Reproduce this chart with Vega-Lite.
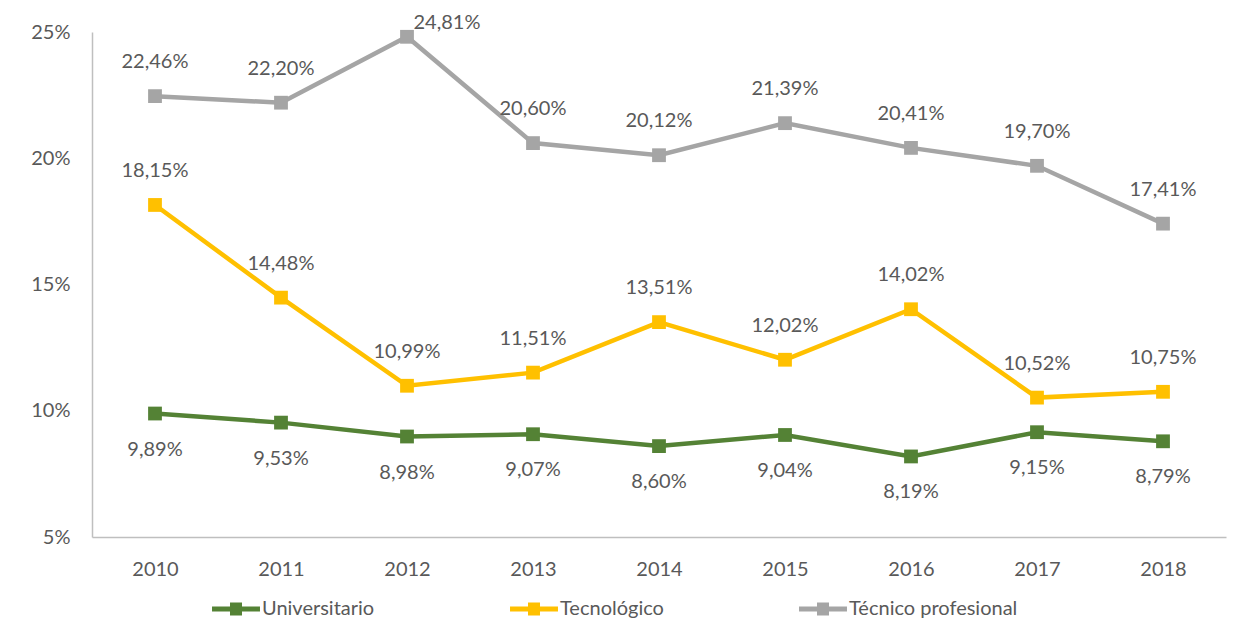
{
  "$schema": "https://vega.github.io/schema/vega-lite/v6.json",
  "autosize": "none",
  "width": 1134,
  "height": 505,
  "padding": {"left": 92, "top": 32, "right": 24, "bottom": 103},
  "background": "white",
  "config": {
    "locale": {"number": {"decimal": ",", "thousands": ".", "grouping": [3], "currency": ["", "€"]}},
    "view": {"stroke": null},
    "font": "Lato",
    "axis": {"labelFont": "Lato", "labelFontSize": 20, "labelColor": "#595959", "domainColor": "#BFBFBF", "domainWidth": 1.5, "ticks": false, "grid": false, "title": null}
  },
  "data": {"values": [
    {"year": "2010", "serie": "Universitario", "v": 0.0989},
    {"year": "2011", "serie": "Universitario", "v": 0.0953},
    {"year": "2012", "serie": "Universitario", "v": 0.0898},
    {"year": "2013", "serie": "Universitario", "v": 0.0907},
    {"year": "2014", "serie": "Universitario", "v": 0.0860},
    {"year": "2015", "serie": "Universitario", "v": 0.0904},
    {"year": "2016", "serie": "Universitario", "v": 0.0819},
    {"year": "2017", "serie": "Universitario", "v": 0.0915},
    {"year": "2018", "serie": "Universitario", "v": 0.0879},
    {"year": "2010", "serie": "Tecnológico", "v": 0.1815},
    {"year": "2011", "serie": "Tecnológico", "v": 0.1448},
    {"year": "2012", "serie": "Tecnológico", "v": 0.1099},
    {"year": "2013", "serie": "Tecnológico", "v": 0.1151},
    {"year": "2014", "serie": "Tecnológico", "v": 0.1351},
    {"year": "2015", "serie": "Tecnológico", "v": 0.1202},
    {"year": "2016", "serie": "Tecnológico", "v": 0.1402},
    {"year": "2017", "serie": "Tecnológico", "v": 0.1052},
    {"year": "2018", "serie": "Tecnológico", "v": 0.1075},
    {"year": "2010", "serie": "Técnico profesional", "v": 0.2246},
    {"year": "2011", "serie": "Técnico profesional", "v": 0.2220},
    {"year": "2012", "serie": "Técnico profesional", "v": 0.2481},
    {"year": "2013", "serie": "Técnico profesional", "v": 0.2060},
    {"year": "2014", "serie": "Técnico profesional", "v": 0.2012},
    {"year": "2015", "serie": "Técnico profesional", "v": 0.2139},
    {"year": "2016", "serie": "Técnico profesional", "v": 0.2041},
    {"year": "2017", "serie": "Técnico profesional", "v": 0.1970},
    {"year": "2018", "serie": "Técnico profesional", "v": 0.1741}
  ]},
  "encoding": {
    "x": {"field": "year", "type": "ordinal", "scale": {"type": "point", "padding": 0.5}, "axis": {"labelAngle": 0, "labelPadding": 22}},
    "y": {"field": "v", "type": "quantitative", "scale": {"domain": [0.05, 0.25], "nice": false, "zero": false}, "axis": {"format": ".0%", "values": [0.05, 0.1, 0.15, 0.2, 0.25], "labelPadding": 22, "labelBaseline": "middle"}},
    "color": {"field": "serie", "type": "nominal", "scale": {"domain": ["Universitario", "Tecnológico", "Técnico profesional"], "range": ["#548235", "#FFC000", "#A5A5A5"]},
      "legend": {"orient": "none", "legendX": 120, "legendY": 553, "direction": "horizontal", "title": null,
         "symbolType": "M-1,-0.1H-0.25V-0.27H0.25V-0.1H1V0.1H0.25V0.27H-0.25V0.1H-1Z",
         "symbolSize": 2300, "symbolStrokeWidth": 0, "labelFont": "Lato", "labelFontSize": 20, "labelColor": "#595959", "labelOffset": 2, "labelLimit": 400, "columnPadding": 135,
         "encode": {"symbols": {"update": {"fill": {"scale": "color", "field": "value"}, "strokeWidth": {"value": 0}, "opacity": {"value": 1}}}}}}
  },
  "layer": [
    {"mark": {"type": "line", "strokeWidth": 4.5}},
    {"mark": {"type": "point", "shape": "square", "filled": true, "opacity": 1, "size": 190}},
    {"transform": [{"filter": "datum.serie !== 'Universitario' && !(datum.serie === 'Técnico profesional' && datum.year === '2012')"}],
     "mark": {"type": "text", "dy": -34, "fontSize": 20, "font": "Lato", "color": "#595959"},
     "encoding": {"text": {"field": "v", "type": "quantitative", "format": ".2%"}, "color": {"value": "#595959"}}},
    {"transform": [{"filter": "datum.serie === 'Técnico profesional' && datum.year === '2012'"}],
     "mark": {"type": "text", "dy": -14, "dx": 40, "fontSize": 20, "font": "Lato", "color": "#595959"},
     "encoding": {"text": {"field": "v", "type": "quantitative", "format": ".2%"}, "color": {"value": "#595959"}}},
    {"transform": [{"filter": "datum.serie === 'Universitario'"}],
     "mark": {"type": "text", "dy": 36, "fontSize": 20, "font": "Lato", "color": "#595959"},
     "encoding": {"text": {"field": "v", "type": "quantitative", "format": ".2%"}, "color": {"value": "#595959"}}}
  ]
}
